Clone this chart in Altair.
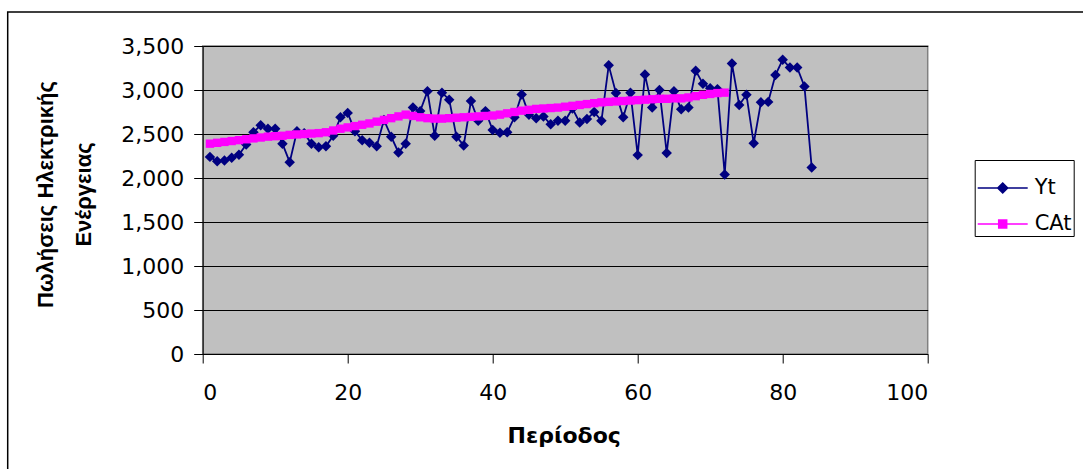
import altair as alt
import pandas as pd

# ---- data ----
yt_values = [
    2240, 2190, 2200, 2230, 2265, 2380, 2520, 2600, 2560, 2560,
    2390, 2180, 2530, 2510, 2390, 2350, 2360, 2480, 2690, 2740,
    2530, 2430, 2400, 2360, 2660, 2470, 2290, 2390, 2800, 2760,
    2985, 2480, 2970, 2890, 2470, 2370, 2875, 2650, 2760, 2545,
    2515, 2520, 2690, 2950, 2720, 2680, 2700, 2610, 2650, 2650,
    2790, 2630, 2670, 2750, 2650, 3280, 2965, 2690, 2970, 2260,
    3175, 2800, 3000, 2285, 2985, 2780, 2800, 3220, 3070, 3020,
    3010, 2040, 3300, 2830, 2945, 2395, 2860, 2865, 3170, 3345,
    3255, 3255, 3040, 2120,
]
cat_values = [
    2390, 2400, 2410, 2420, 2430, 2440, 2450, 2460, 2470, 2475,
    2480, 2490, 2495, 2500, 2505, 2510, 2520, 2540, 2560, 2575,
    2590, 2605, 2620, 2640, 2660, 2680, 2700, 2720, 2705, 2690,
    2680, 2675, 2675, 2680, 2685, 2690, 2695, 2700, 2705, 2710,
    2720, 2735, 2750, 2765, 2775, 2785, 2790, 2795, 2800, 2810,
    2820, 2830, 2840, 2850, 2860, 2865, 2870, 2875, 2880, 2885,
    2890, 2895, 2900, 2900, 2905, 2905, 2915, 2930, 2945, 2955,
    2965, 2970,
]
series_names = ["Yt", "CAt"]
series_colors = ["#000080", "#FF00FF"]
x_ticks = [0, 20, 40, 60, 80, 100]
y_ticks = [0, 500, 1000, 1500, 2000, 2500, 3000, 3500]

rows = [{"t": i + 1, "value": v, "series": "Yt"} for i, v in enumerate(yt_values)]
rows += [{"t": i + 1, "value": v, "series": "CAt"} for i, v in enumerate(cat_values)]
df = pd.DataFrame(rows)

LABEL_FONT = "DejaVu Sans"

x_enc = alt.X(
    "t:Q",
    scale=alt.Scale(domain=[0, 100], nice=False),
    axis=alt.Axis(
        values=x_ticks, title="Περίοδος", grid=False, format="d",
        labelFont=LABEL_FONT, labelFontSize=22, labelColor="black",
        labelPadding=19, tickSize=9, tickColor="black", domainColor="black",
        titleFont=LABEL_FONT, titleFontSize=22, titleFontWeight="bold",
        titleColor="black", titleX=361, titleY=88, titleBaseline="alphabetic",
        titleAlign="center",
    ),
)
y_enc = alt.Y(
    "value:Q",
    scale=alt.Scale(domain=[0, 3500], nice=False),
    axis=alt.Axis(
        values=y_ticks, format=",d", title=["Πωλήσεις Ηλεκτρικής", "Ενέργειας"],
        grid=True, gridColor="black", gridWidth=1,
        labelFont=LABEL_FONT, labelFontSize=22, labelColor="black",
        labelPadding=10, tickSize=9, tickColor="black", domainColor="black",
        titleFont="Liberation Sans", titleFontSize=22, titleFontWeight="bold",
        titleColor="black", titleAngle=270, titleX=-150, titleY=148,
        titleBaseline="alphabetic", titleAlign="center", titleLineHeight=38,
    ),
)

base = alt.Chart(df)

yt_line = base.transform_filter(alt.datum.series == "Yt").mark_line(
    color="#000080", strokeWidth=1.8
).encode(x=x_enc, y=y_enc)
yt_pts = base.transform_filter(alt.datum.series == "Yt").mark_point(
    shape="diamond", filled=True, color="#000080", size=110, opacity=1
).encode(x="t:Q", y="value:Q")
ca_line = base.transform_filter(alt.datum.series == "CAt").mark_line(
    color="#FF00FF", strokeWidth=2
).encode(x="t:Q", y="value:Q")
ca_pts = base.transform_filter(alt.datum.series == "CAt").mark_point(
    shape="square", filled=True, color="#FF00FF", size=70, opacity=1
).encode(x="t:Q", y="value:Q")

legend_paths = [
    "M-1,0H1M0,-0.2L0.2,0L0,0.2L-0.2,0Z",
    "M-1,0H1M-0.16,-0.16H0.16V0.16H-0.16Z",
]
leg = alt.Legend(
    title=None, orient="none", legendX=772, legendY=114,
    padding=2, labelOffset=6, rowPadding=0, symbolSize=2500,
    symbolStrokeWidth=1.5, symbolOpacity=1,
    labelFont=LABEL_FONT, labelFontSize=21, labelColor="black",
    strokeColor="black", fillColor="white",
)
legend_layer = base.mark_point(filled=True, opacity=0).encode(
    x="t:Q", y="value:Q",
    fill=alt.Fill("series:N", scale=alt.Scale(domain=series_names, range=series_colors), legend=leg),
    stroke=alt.Stroke("series:N", scale=alt.Scale(domain=series_names, range=series_colors), legend=leg),
    shape=alt.Shape("series:N", scale=alt.Scale(domain=series_names, range=legend_paths), legend=leg),
)

frame = alt.Chart(alt.Data(values=[{}])).mark_rect(
    filled=False, stroke="black", strokeWidth=1.5, clip=False
).encode(
    x=alt.value(-195), x2=alt.value(890), y=alt.value(-34), y2=alt.value(430)
)

chart = alt.layer(frame, yt_line, yt_pts, ca_line, ca_pts, legend_layer).properties(
    width=725, height=308,
    padding={"left": 202.7, "top": 46, "right": 155.3, "bottom": 115},
    autosize=alt.AutoSizeParams(type="none"),
    background="white",
).configure_view(
    fill="#C0C0C0", stroke="#808080", strokeWidth=1.5
)

chart.save("out.html", embed_options={"renderer": "svg", "actions": False})
